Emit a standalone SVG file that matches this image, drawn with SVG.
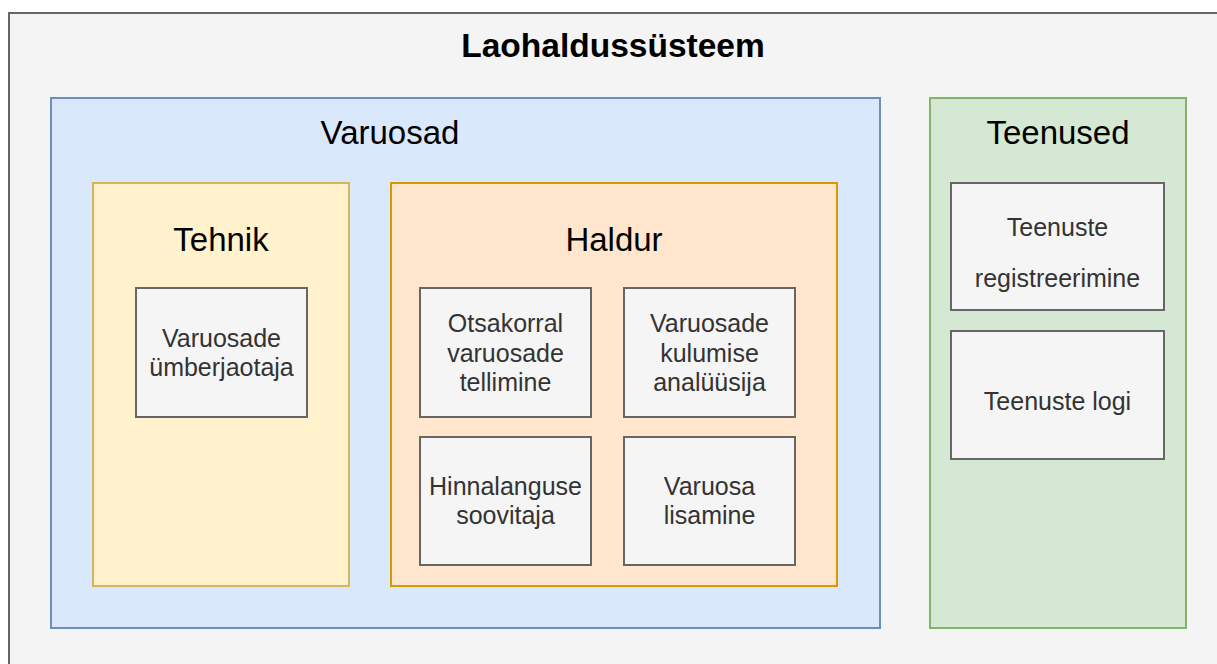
<svg xmlns="http://www.w3.org/2000/svg" width="1217" height="664" viewBox="0 0 1217 664">
<style>
  text { font-family: "Liberation Sans", Arial, sans-serif; text-anchor: middle; }
  .h { font-size: 33px; fill: #000; }
  .t { font-size: 25px; fill: #333; }
  .leaf { fill: #f5f5f5; stroke: #666666; stroke-width: 2; }
</style>
<rect x="0" y="0" width="1217" height="664" fill="#ffffff"/>
<g id="laohaldussusteem">
  <rect x="9" y="13" width="1220" height="670" fill="#f4f4f4" stroke="#666666" stroke-width="2"/>
  <text x="613" y="57" style="font-size:33.5px;font-weight:bold;fill:#000">Laohaldussüsteem</text>
</g>
<g id="varuosad">
  <rect x="51" y="98" width="829" height="530" fill="#dae8fc" stroke="#6c8ebf" stroke-width="2"/>
  <text class="h" x="390" y="144">Varuosad</text>
</g>
<g id="tehnik">
  <rect x="93" y="183" width="256" height="403" fill="#fff2cc" stroke="#d6b656" stroke-width="2"/>
  <text class="h" x="221" y="251">Tehnik</text>
</g>
<g id="haldur">
  <rect x="391" y="183" width="446" height="403" fill="#ffe6cc" stroke="#d79b00" stroke-width="2"/>
  <text class="h" x="614" y="251">Haldur</text>
</g>
<g id="teenused">
  <rect x="930" y="98" width="256" height="530" fill="#d5e8d4" stroke="#82b366" stroke-width="2"/>
  <text class="h" x="1058" y="144">Teenused</text>
</g>
<g id="umberjaotaja">
  <rect class="leaf" x="136" y="288" width="171" height="129"/>
  <text class="t" x="221.5" y="346.5">Varuosade</text>
  <text class="t" x="221.5" y="375.5">ümberjaotaja</text>
</g>
<g id="otsakorral">
  <rect class="leaf" x="420" y="288" width="171" height="129"/>
  <text class="t" x="505.5" y="332">Otsakorral</text>
  <text class="t" x="505.5" y="361.5">varuosade</text>
  <text class="t" x="505.5" y="391">tellimine</text>
</g>
<g id="kulumise">
  <rect class="leaf" x="624" y="288" width="171" height="129"/>
  <text class="t" x="709.5" y="332">Varuosade</text>
  <text class="t" x="709.5" y="361.5">kulumise</text>
  <text class="t" x="709.5" y="391">analüüsija</text>
</g>
<g id="hinnalanguse">
  <rect class="leaf" x="420" y="437" width="171" height="128"/>
  <text class="t" x="505.5" y="495">Hinnalanguse</text>
  <text class="t" x="505.5" y="524">soovitaja</text>
</g>
<g id="lisamine">
  <rect class="leaf" x="624" y="437" width="171" height="128"/>
  <text class="t" x="709.5" y="495">Varuosa</text>
  <text class="t" x="709.5" y="524">lisamine</text>
</g>
<g id="registreerimine">
  <rect class="leaf" x="951" y="183" width="213" height="127"/>
  <text class="t" x="1057.5" y="236">Teenuste</text>
  <text class="t" x="1057.5" y="287">registreerimine</text>
</g>
<g id="logi">
  <rect class="leaf" x="951" y="331" width="213" height="128"/>
  <text class="t" x="1057.5" y="410">Teenuste logi</text>
</g>
<g id="connectors"></g>
</svg>
